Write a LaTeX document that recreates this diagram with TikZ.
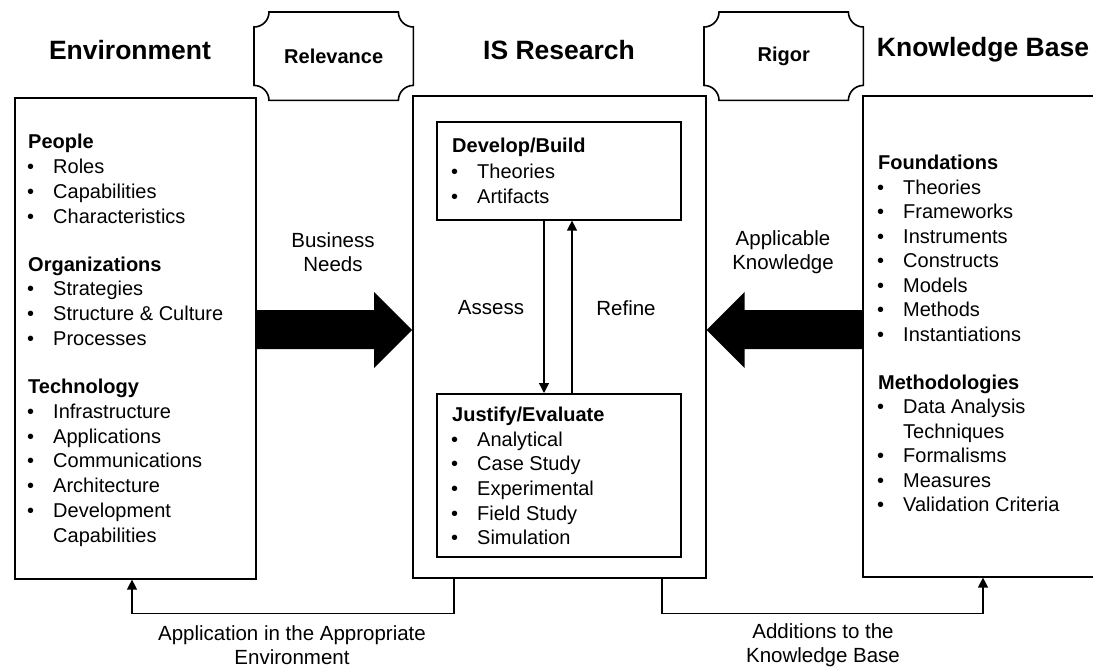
\documentclass[tikz,border=0pt]{standalone}
\usepackage{fontspec}
\setmainfont{Liberation Sans}
\usetikzlibrary{calc,arrows.meta}

% scroll-shaped frame with concave corners around a node
\newcommand\scrollframe[1]{%
  \draw[frame] ($(#1.north west)+(15,0)$) -- ($(#1.north east)+(-15,0)$)
    .. controls ($(#1.north east)+(-15,8.3)$) and ($(#1.north east)+(-8.3,15)$) .. ($(#1.north east)+(0,15)$)
    -- ($(#1.south east)+(0,-15)$)
    .. controls ($(#1.south east)+(-8.3,-15)$) and ($(#1.south east)+(-15,-8.3)$) .. ($(#1.south east)+(-15,0)$)
    -- ($(#1.south west)+(15,0)$)
    .. controls ($(#1.south west)+(15,-8.3)$) and ($(#1.south west)+(8.3,-15)$) .. ($(#1.south west)+(0,-15)$)
    -- ($(#1.north west)+(0,15)$)
    .. controls ($(#1.north west)+(8.3,15)$) and ($(#1.north west)+(15,8.3)$) .. cycle;}

\begin{document}
\begin{tikzpicture}[x=1pt,y=-1pt,
  frame/.style={line width=1.6pt},
  panel/.style={draw, frame, inner sep=0pt, anchor=north west},
  heading/.style={font=\fontsize{26.5}{30}\selectfont\bfseries},
  scrollnode/.style={inner sep=0pt, minimum width=159pt, minimum height=88pt, anchor=north west,
    font=\fontsize{20}{24}\selectfont\bfseries},
  item/.style={anchor=mid west, inner sep=0pt, yshift=-5pt, font=\fontsize{20}{24}\selectfont},
  subhead/.style={item, font=\fontsize{20}{24}\selectfont\bfseries},
  lab/.style={font=\fontsize{20.5}{23.5}\selectfont, align=center, inner sep=0pt},
  flow/.style={-{Triangle[length=10pt,width=10pt]}, line width=1.4pt}]

\useasboundingbox (0,0) rectangle (1093,669);
\clip (0,0) rectangle (1093,669);

% headings
\node[heading] (hEnv) at (130,50) {Environment};
\node[heading] (hIS)  at (559,50) {IS Research};
\node[heading] (hKB)  at (983,50) {Knowledge Base};

% main panels
\node[panel, minimum width=241pt, minimum height=481pt] (env) at (14,97) {};
\node[panel, minimum width=293pt, minimum height=482pt] (isr) at (412,95) {};
\node[panel, minimum width=300pt, minimum height=481pt] (kb)  at (862,95) {};
\node[panel, minimum width=244pt, minimum height=98pt]  (dev) at (436,121) {};
\node[panel, minimum width=244pt, minimum height=163pt] (jus) at (436,393) {};

% relevance / rigor scrolls
\node[scrollnode] (rel) at (254,12) {Relevance};
\node[scrollnode] (rig) at (704,12) {Rigor};
\scrollframe{rel}
\scrollframe{rig}

% environment list
\foreach \y/\t [count=\i] in {141/People, 263.4/Organizations, 385.8/Technology}
  \node[subhead, name=envh\i] at (28,\y) {\t};
\foreach \y/\t [count=\i] in {165.8/Roles, 190.6/Capabilities, 215.4/Characteristics,
    288.2/Strategies, 313/Structure \& Culture, 337.8/Processes,
    410.6/Infrastructure, 435.4/Applications, 460.2/Communications, 485/Architecture, 509.8/Development}{
  \node[item, name=envb\i] at (27,\y) {\textbullet};
  \node[item, name=envi\i] at (53,\y) {\t};
}
\node[item] (envi12) at (53,534.6) {Capabilities};

% IS research lists
\node[subhead] (devh) at (452,145) {Develop/Build};
\foreach \y/\t [count=\i] in {170.5/Theories, 195.5/Artifacts}{
  \node[item, name=devb\i] at (451,\y) {\textbullet};
  \node[item, name=devi\i] at (477,\y) {\t};
}
\node[subhead] (jush) at (452,414) {Justify/Evaluate};
\foreach \y/\t [count=\i] in {438.6/Analytical, 463.2/Case Study, 487.8/Experimental, 512.4/Field Study, 537/Simulation}{
  \node[item, name=jusb\i] at (451,\y) {\textbullet};
  \node[item, name=jusi\i] at (477,\y) {\t};
}

% knowledge base list
\foreach \y/\t [count=\i] in {162/Foundations, 381.5/Methodologies}
  \node[subhead, name=kbh\i] at (878,\y) {\t};
\foreach \y/\t [count=\i] in {186.5/Theories, 211/Frameworks, 235.5/Instruments, 260/Constructs,
    284.5/Models, 309/Methods, 333.5/Instantiations,
    406/Data Analysis, 455/Formalisms, 479.5/Measures, 504/Validation Criteria}{
  \node[item, name=kbb\i] at (877,\y) {\textbullet};
  \node[item, name=kbi\i] at (903,\y) {\t};
}
\node[item] (kbi12) at (903,430.5) {Techniques};

% block arrows
\fill let \p1=(env.east), \p2=(isr.west) in
  (\x1,-310pt) -- (\x2-38pt,-310pt) -- (\x2-38pt,-292pt) -- (\x2,-330pt)
  -- (\x2-38pt,-368pt) -- (\x2-38pt,-349pt) -- (\x1,-349pt) -- cycle;
\fill let \p1=(kb.west), \p2=(isr.east) in
  (\x1,-310pt) -- (\x2+38pt,-310pt) -- (\x2+38pt,-292pt) -- (\x2,-330pt)
  -- (\x2+38pt,-368pt) -- (\x2+38pt,-349pt) -- (\x1,-349pt) -- cycle;
\node[lab] (needs) at (333,252) {Business\\Needs};
\node[lab] (know)  at (783,252) {Applicable\\Knowledge};

% assess / refine loop
\draw[flow] ($(dev.south west)+(108,0)$) -- ($(jus.north west)+(108,0)$);
\draw[flow] ($(jus.north west)+(136,0)$) -- ($(dev.south west)+(136,0)$);
\node[lab] (assess) at (491,308) {Assess};
\node[lab] (refine) at (626,308) {Refine};

% feedback to environment and knowledge base
\draw[flow] ($(isr.south west)+(42,0)$) -- ++(0,35) -| ($(env.south west)+(118,0)$);
\draw[flow] ($(isr.south west)+(250,0)$) -- ++(0,35) -| ($(kb.south west)+(121,0)$);
\node[lab] (appl) at (292,645) {Application in the Appropriate\\Environment};
\node[lab] (add)  at (823,645) {Additions to the\\Knowledge Base};
\end{tikzpicture}
\end{document}
